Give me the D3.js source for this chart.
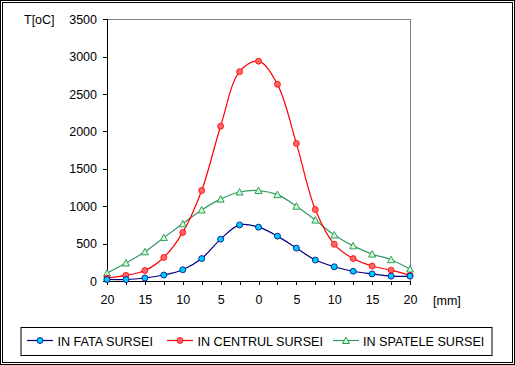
<!DOCTYPE html>
<html><head><meta charset="utf-8">
<script src="https://cdn.jsdelivr.net/npm/d3@7"></script>
<style>body{margin:0;background:#fff}svg{display:block}</style>
</head><body>
<script>
const positions = [-20,-17.5,-15,-12.5,-10,-7.5,-5,-2.5,0,2.5,5,7.5,10,12.5,15,17.5,20];
const xTickValues = [-20,-15,-10,-5,0,5,10,15,20];
const yTickValues = [0,500,1000,1500,2000,2500,3000,3500];
const inFata    = [20,20,40,80,150,300,560,750,720,600,440,280,190,130,95,65,65];
const inCentrul = [40,75,140,315,650,1210,2070,2800,2940,2630,1840,955,490,300,200,145,75];
const inSpatele = [105,240,390,580,765,950,1095,1190,1210,1155,1000,815,615,470,360,285,160];
const seriesNames = ["IN FATA SURSEI","IN CENTRUL SURSEI","IN SPATELE SURSEI"];

const W=515,H=365;
const svg=d3.select("body").append("svg").attr("width",W).attr("height",H)
  .style("font-family","Arial, 'Liberation Sans', sans-serif");
svg.append("rect").attr("x",0.5).attr("y",0.5).attr("width",W-1).attr("height",H-1).attr("fill","#fff").attr("stroke","#000");
svg.append("rect").attr("x",2.5).attr("y",2.5).attr("width",W-5).attr("height",H-5).attr("fill","none").attr("stroke","#000");

const L=107,R=410,T=19.3,B=281;
const x=d3.scaleLinear().domain([-20,20]).range([L,R]);
const y=d3.scaleLinear().domain([0,3500]).range([B,T]);

svg.append("path").attr("d",`M${L},${T}H${R}V${B}`).attr("fill","none").attr("stroke","#808080").attr("shape-rendering","crispEdges");

const yAxis=svg.append("g").attr("transform",`translate(${L},0)`)
  .call(d3.axisLeft(y).tickValues(yTickValues).tickSize(4).tickPadding(6).tickFormat(d3.format("d")));
const xAxis=svg.append("g").attr("transform",`translate(0,${B})`)
  .call(d3.axisBottom(x).tickValues(positions).tickSize(4).tickPadding(5).tickFormat(d=>xTickValues.includes(d)?Math.abs(d):""));
[yAxis,xAxis].forEach(g=>{
  g.selectAll("path,line").attr("stroke","#000").attr("shape-rendering","crispEdges");
  g.select(".domain").attr("d", g===yAxis?`M0.5,${B}V${T}`:`M${L},0.5H${R}`);
  g.selectAll("text").attr("fill","#000").style("font-size","12.5px").style("font-family","Arial, 'Liberation Sans', sans-serif");
});
xAxis.selectAll("text").attr("dy","1.1em");

svg.append("text").attr("x",24).attr("y",24).text("T[oC]").style("font-size","12.5px");
svg.append("text").attr("x",433).attr("y",305).text("[mm]").style("font-size","12.5px");

const line=d3.line().x((d,i)=>x(positions[i])).y(d=>y(d)).curve(d3.curveCatmullRom.alpha(0.5));
const styles=[
  {data:inFata,stroke:"#000080",fill:"#00ccff",shape:"circle"},
  {data:inCentrul,stroke:"#ff0000",fill:"#ff6666",shape:"circle"},
  {data:inSpatele,stroke:"#339966",fill:"#ccffcc",shape:"triangle"}
];
function marker(g,s,cx,cy){
  if(s.shape==="circle"){
    g.append("circle").attr("cx",cx).attr("cy",cy).attr("r",3).attr("fill",s.fill).attr("stroke",s.stroke).attr("stroke-width",0.8);
  } else {
    g.append("path").attr("d",`M${cx},${cy-3.5}L${cx+3.5},${cy+3}L${cx-3.5},${cy+3}Z`).attr("fill",s.fill).attr("stroke",s.stroke).attr("stroke-width",1);
  }
}
styles.slice().reverse().forEach(s=>{
  svg.append("path").attr("d",line(s.data)).attr("fill","none").attr("stroke",s.stroke).attr("stroke-width",1.2);
});
styles.slice().reverse().forEach(s=>{
  const g=svg.append("g");
  s.data.forEach((v,i)=>marker(g,s,x(positions[i]),y(v)));
});

svg.append("rect").attr("x",21).attr("y",327.5).attr("width",471).attr("height",28).attr("fill","#fff").attr("stroke","#000");
const lx=[[27,53,57.5],[167,193,197.5],[333,359,363]];
styles.forEach((s,i)=>{
  const [a,b,t]=lx[i];
  const g=svg.append("g");
  g.append("line").attr("x1",a).attr("x2",b).attr("y1",340.5).attr("y2",340.5).attr("stroke",s.stroke).attr("stroke-width",1.2);
  marker(g,s,(a+b)/2,340.5);
  g.append("text").attr("x",t).attr("y",345.5).text(seriesNames[i]).style("font-size","12.6px").attr("fill","#000");
});
</script>
</body></html>
